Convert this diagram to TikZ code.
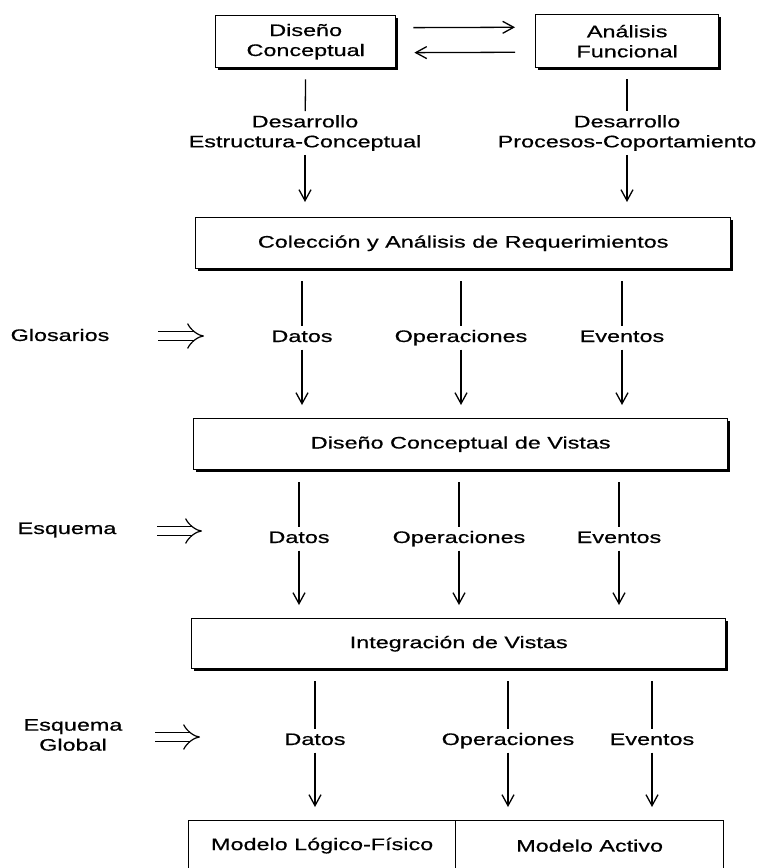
\documentclass[tikz,border=0pt]{standalone}
\usepackage{fontspec}
\setmainfont[FakeStretch=1.4, FakeBold=0.6]{Liberation Sans}
\usetikzlibrary{arrows.meta,shadows}

\tikzset{
  caja/.style={rectangle, draw, line width=1.4pt, fill=white, align=center, inner sep=0pt,
    general shadow={fill=black, shadow xshift=2pt, shadow yshift=-2.4pt}},
  modelo/.style={rectangle, draw, line width=1.3pt, inner sep=0pt, anchor=north west, minimum height=50pt},
  etiq/.style={inner xsep=2pt, inner ysep=4pt},
  fila/.style={etiq, anchor=base, text height=11.8pt, text depth=3.5pt},
  linea/.style={line width=1.3pt},
  flecha/.style={line width=1.3pt, -{Straight Barb[length=11pt,width=12pt]}},
  implica/.style={double, double distance=8pt, line width=1.2pt, -{Implies[length=8pt,width=26pt]}}
}

\begin{document}
\begin{tikzpicture}[x=1pt, y=-1pt, font=\fontsize{16.7}{20}\selectfont]
\useasboundingbox (0,0) rectangle (765,868);

\node (diseno) [caja, minimum width=180pt, minimum height=52pt, anchor=north west] at (215,15) {Diseño\\Conceptual};
\node (analisis) [caja, minimum width=183pt, minimum height=53pt, anchor=north west] at (535,14) {Análisis\\Funcional};
\draw [flecha, shorten <=17pt, shorten >=20pt] ([yshift=14pt]diseno.east) -- ([yshift=14pt]analisis.west);
\draw [flecha, shorten <=20pt, shorten >=18pt] ([yshift=-11pt]analisis.west) -- ([yshift=-11pt]diseno.east);

\node (desA) [etiq, align=center] at (305,133) {Desarrollo\\Estructura-Conceptual};
\node (desB) [etiq, align=center] at (627,133) {Desarrollo\\Procesos-Coportamiento};
\draw [linea, shorten <=11pt] (diseno.south) -- (desA);
\draw [linea, shorten <=11pt] (analisis.south -| desB) -- (desB);

\node (coleccion) [caja, minimum width=535pt, minimum height=51pt, anchor=north west] at (195,217) {Colección y Análisis de Requerimientos};
\draw [flecha, shorten >=15pt] (desA) -- (desA |- coleccion.north);
\draw [flecha, shorten >=15pt] (desB) -- (desB |- coleccion.north);

% primera fila
\node (glosarios) [etiq] at (60,335) {Glosarios};
\coordinate (impA1) at (158,336);
\coordinate (impA2) at (204,336);
\draw [implica] (impA1) -- (impA2);
\node (datosA) [fila] at (302,342) {Datos};
\node (operA) [fila] at (461,342) {Operaciones};
\node (eventA) [fila] at (622,342) {Eventos};

\node (vistas) [caja, minimum width=534pt, minimum height=51pt, anchor=north west] at (193,418) {Diseño Conceptual de Vistas};
\draw [linea, shorten <=12pt] (coleccion.south -| datosA) -- (datosA);
\draw [linea, shorten <=12pt] (coleccion.south -| operA) -- (operA);
\draw [linea, shorten <=12pt] (coleccion.south -| eventA) -- (eventA);
\draw [flecha, shorten >=13pt] (datosA) -- (datosA |- vistas.north);
\draw [flecha, shorten >=13pt] (operA) -- (operA |- vistas.north);
\draw [flecha, shorten >=13pt] (eventA) -- (eventA |- vistas.north);

% segunda fila
\node (esquema) [etiq] at (67,530) {Esquema};
\coordinate (impB1) at (157,531);
\coordinate (impB2) at (202,531);
\draw [implica] (impB1) -- (impB2);
\node (datosB) [fila] at (299,543) {Datos};
\node (operB) [fila] at (459,543) {Operaciones};
\node (eventB) [fila] at (619,543) {Eventos};

\node (integracion) [caja, minimum width=534pt, minimum height=50pt, anchor=north west] at (191,618) {Integración de Vistas};
\draw [linea, shorten <=12pt] (vistas.south -| datosB) -- (datosB);
\draw [linea, shorten <=12pt] (vistas.south -| operB) -- (operB);
\draw [linea, shorten <=12pt] (vistas.south -| eventB) -- (eventB);
\draw [flecha, shorten >=13pt] (datosB) -- (datosB |- integracion.north);
\draw [flecha, shorten >=13pt] (operB) -- (operB |- integracion.north);
\draw [flecha, shorten >=13pt] (eventB) -- (eventB |- integracion.north);

% tercera fila
\node (global) [etiq, align=center] at (73,735) {Esquema\\Global};
\coordinate (impC1) at (155,737);
\coordinate (impC2) at (200,737);
\draw [implica] (impC1) -- (impC2);
\node (datosC) [fila] at (315,745) {Datos};
\node (operC) [fila] at (508,745) {Operaciones};
\node (eventC) [fila] at (652,745) {Eventos};

\node (logico) [modelo, minimum width=267pt] at (188,820) {Modelo Lógico-Físico};
\node (activo) [modelo, minimum width=268pt] at (455,820) {Modelo Activo};
\draw [linea, shorten <=12pt] (integracion.south -| datosC) -- (datosC);
\draw [linea, shorten <=12pt] (integracion.south -| operC) -- (operC);
\draw [linea, shorten <=12pt] (integracion.south -| eventC) -- (eventC);
\draw [flecha, shorten >=13pt] (datosC) -- (datosC |- logico.north);
\draw [flecha, shorten >=13pt] (operC) -- (operC |- activo.north);
\draw [flecha, shorten >=13pt] (eventC) -- (eventC |- activo.north);
\end{tikzpicture}
\end{document}
